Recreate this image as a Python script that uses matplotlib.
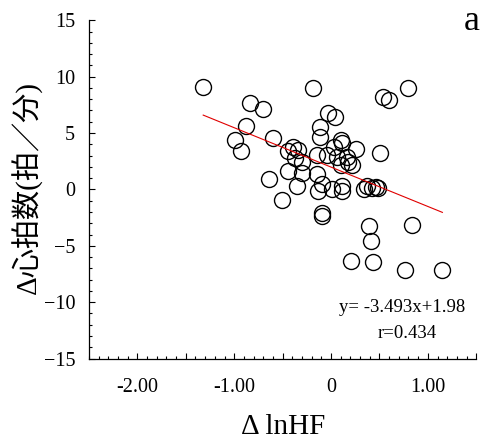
import matplotlib
matplotlib.use("Agg")
import matplotlib.pyplot as plt
from matplotlib.ticker import FixedLocator, MultipleLocator, FixedFormatter
import numpy as np

plt.rcParams['font.family'] = ['Liberation Serif', 'Noto Sans CJK JP']
plt.rcParams['mathtext.fontset'] = 'stix'

# change in ln(HF) vs change in heart rate (beats/min)
d_lnhf = [
    -1.32, -0.84, -0.70, -0.88, -0.99, -0.93, -0.60, -0.64, -0.51, -0.19,
    0.79, 0.54, 0.60,
    -0.03, 0.04, -0.11, -0.11, 0.10, 0.11, 0.26, 0.03, -0.39, -0.34, -0.15,
    -0.04, 0.06, 0.17, 0.18, -0.37, -0.30, 0.51, 0.10, -0.44, 0.22,
    -0.44, -0.30, -0.15, -0.35, -0.09, -0.13, 0.01, 0.11, 0.11, 0.34,
    0.37, 0.42, 0.46, 0.48,
    -0.09, -0.09, 0.39, 0.84, 0.41, 0.21, 0.43, 0.76, 1.15,
]
d_hr = [
    9.05, 7.68, 7.17, 5.59, 4.35, 3.37, 4.52, 0.88, -0.93, 8.98,
    8.99, 8.21, 7.92,
    6.74, 6.44, 5.50, 4.67, 4.38, 4.09, 3.60, 3.79, 3.79, 3.50, 3.05,
    3.05, 2.90, 2.90, 2.46, 2.76, 2.46, 3.26, 2.20, 3.45, 2.20,
    1.61, 1.47, 1.33, 0.29, 0.44, -0.15, 0.00, 0.29, -0.15, 0.00,
    0.30, 0.15, 0.25, 0.10,
    -2.06, -2.36, -3.23, -3.20, -4.62, -6.33, -6.44, -7.12, -7.18,
]

# fitted regression
slope = -3.493
intercept = 1.98
r_value = 0.434

x_ticks = [-2.0, -1.5, -1.0, -0.5, 0.0, 0.5, 1.0, 1.5]
x_tick_labels = ['-2.00', '', '-1.00', '', '0', '', '1.00', '']
y_ticks = [-15, -10, -5, 0, 5, 10, 15]

fig = plt.figure(figsize=(4.86, 4.41), dpi=100)
ax = fig.add_axes([0.183, 0.187, 0.797, 0.767])

ax.plot(d_lnhf, d_hr, linestyle='none', marker='o', markersize=11.5,
        markerfacecolor='none', markeredgecolor='black', markeredgewidth=1.0)

xs = np.array([min(d_lnhf), max(d_lnhf)])
ax.plot(xs, slope * xs + intercept, color='#e00000', linewidth=0.8)

ax.set_xlim(-2.5, 1.5)
ax.set_ylim(-15, 15)

ax.xaxis.set_major_locator(FixedLocator(x_ticks))
ax.xaxis.set_major_formatter(FixedFormatter(x_tick_labels))
ax.xaxis.set_minor_locator(MultipleLocator(0.1))
ax.yaxis.set_major_locator(FixedLocator(y_ticks))
ax.yaxis.set_minor_locator(MultipleLocator(1))

ax.tick_params(which='both', direction='in', width=0.8, labelsize=14.5)
ax.tick_params(which='major', length=4.5)
ax.tick_params(which='minor', length=2.5)
ax.tick_params(axis='x', which='major', pad=14)
ax.tick_params(axis='y', which='major', pad=10)

for side in ['top', 'right']:
    ax.spines[side].set_visible(False)
for side in ['left', 'bottom']:
    ax.spines[side].set_linewidth(0.9)

ax.text(402 / 486, 1 - 308 / 441, 'y= -3.493x+1.98', transform=fig.transFigure,
        ha='center', va='center', fontsize=13.5)
ax.text(407 / 486, 1 - 333 / 441, 'r=%.3f' % r_value, transform=fig.transFigure,
        ha='center', va='center', fontsize=13.5)

fig.text(472 / 486, 1 - 22 / 441, 'a', ha='center', va='center', fontsize=26)
fig.text(283 / 486, 1 - 427 / 441, 'Δ lnHF', ha='center', va='center', fontsize=21)
fig.text(27 / 486, 1 - 187 / 441, 'Δ心拍数(拍／分)', ha='center', va='center',
         rotation=90, fontsize=21)

fig.savefig('out.png', dpi=100)
